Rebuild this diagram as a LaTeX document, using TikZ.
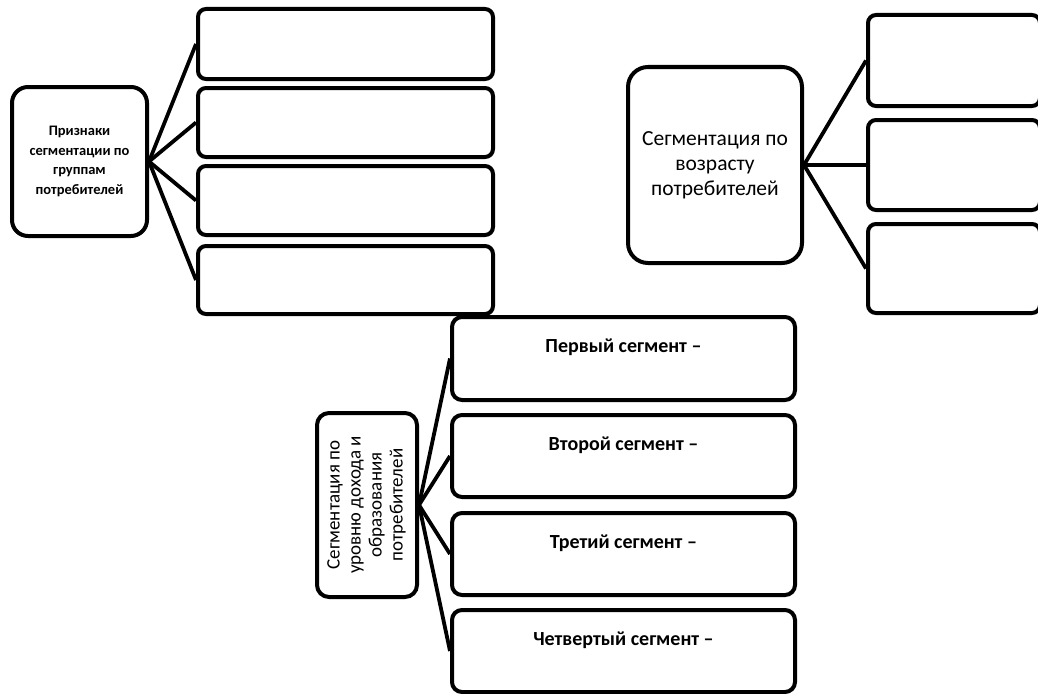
\documentclass[tikz,border=0pt]{standalone}
\usepackage{fontspec}
\setmainfont{Carlito}
\begin{document}
\begin{tikzpicture}[x=1pt,y=-1pt,
  box/.style={draw=black,line width=4pt,rounded corners=8pt,inner sep=0pt,fill=white},
  hub/.style={box,rounded corners=16pt},
  link/.style={draw=black,line width=3.8pt},
  seg/.style={font=\bfseries\fontsize{20}{22}\selectfont}]
\useasboundingbox (0,0) rectangle (1038,693);
% left group
\node[hub,minimum width=135pt,minimum height=149pt,align=center,
  font=\bfseries\fontsize{14.5}{19.5}\selectfont] (L) at (79.5,161.5)
  {Признаки\\сегментации по\\группам\\потребителей};
\node[box,minimum width=295pt,minimum height=70pt] (L1) at (345.5,44) {};
\node[box,minimum width=295pt,minimum height=69pt] (L2) at (345.5,122.5) {};
\node[box,minimum width=295pt,minimum height=69pt] (L3) at (345.5,200.5) {};
\node[box,minimum width=295pt,minimum height=68pt] (L4) at (345.5,280) {};
\foreach \t in {L1,L2,L3,L4} \draw[link] (L.east) -- (\t.west);
% right group
\node[hub,rounded corners=20pt,minimum width=174pt,minimum height=196pt,align=center,
  font=\fontsize{21.5}{25}\selectfont] (R) at (715,165)
  {Сегментация по\\возрасту\\потребителей};
\node[box,minimum width=172pt,minimum height=91pt] (R1) at (954,60.5) {};
\node[box,minimum width=172pt,minimum height=90pt] (R2) at (954,165) {};
\node[box,minimum width=172pt,minimum height=89pt] (R3) at (954,268.5) {};
\foreach \t in {R1,R2,R3} \draw[link] (R.east) -- (\t.west);
% bottom group
\node[hub,rounded corners=12pt,minimum width=100pt,minimum height=184pt,align=center,
  font=\fontsize{19}{21}\selectfont] (B) at (367,505)
  {\rotatebox{90}{\begin{tabular}{@{}c@{}}Сегментация по\\уровню дохода и\\образования\\потребителей\end{tabular}}};
\node[box,rounded corners=10pt,minimum width=343pt,minimum height=83pt,
  label={[seg,anchor=base,yshift=-37pt]north:Первый сегмент –}] (B1) at (623.5,358.5) {};
\node[box,rounded corners=10pt,minimum width=343pt,minimum height=82pt,
  label={[seg,anchor=base,yshift=-37pt]north:Второй сегмент –}] (B2) at (623.5,456) {};
\node[box,rounded corners=10pt,minimum width=343pt,minimum height=82pt,
  label={[seg,anchor=base,yshift=-37pt]north:Третий сегмент –}] (B3) at (623.5,554) {};
\node[box,rounded corners=10pt,minimum width=343pt,minimum height=82pt,
  label={[seg,anchor=base,yshift=-37pt]north:Четвертый сегмент –}] (B4) at (623.5,651) {};
\foreach \t in {B1,B2,B3,B4} \draw[link] (B.east) -- (\t.west);
\end{tikzpicture}
\end{document}
